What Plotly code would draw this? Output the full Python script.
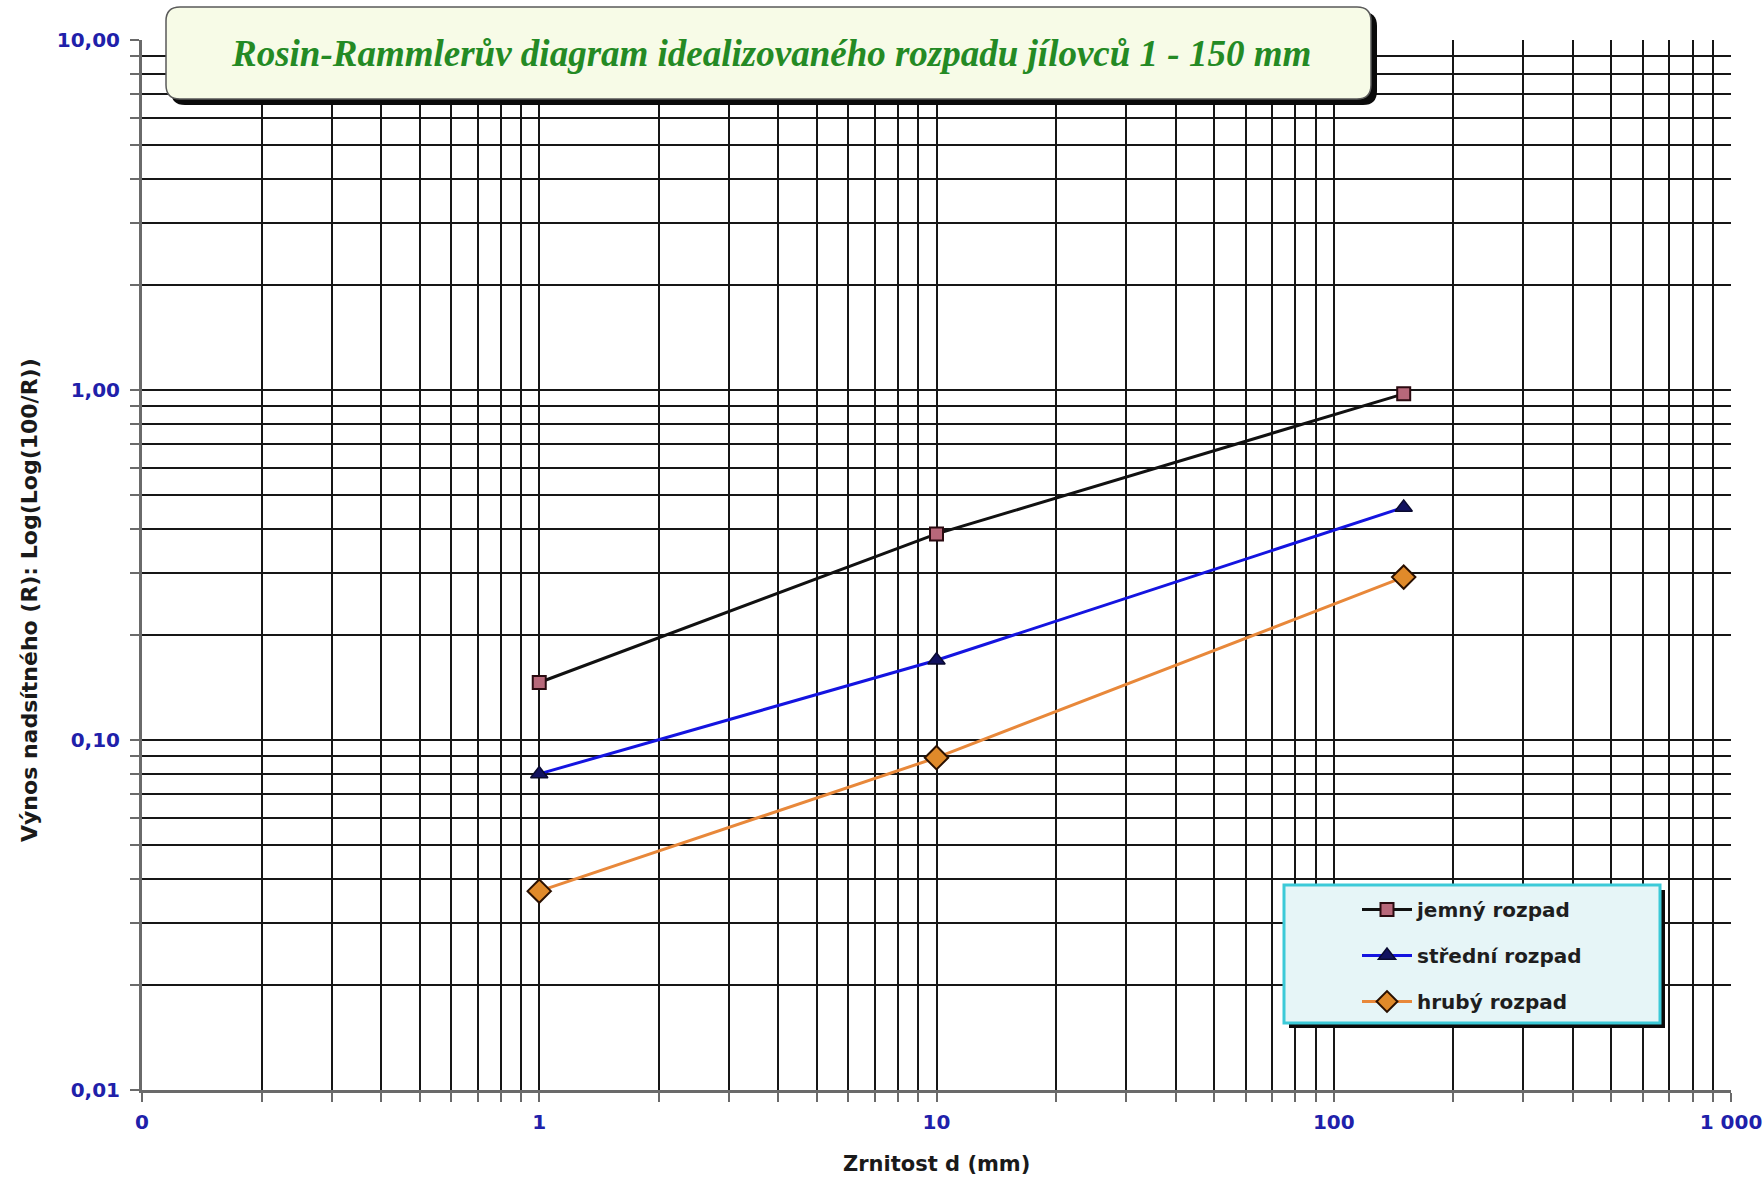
import plotly.graph_objects as go

# Grain size (mm) and Rosin-Rammler ordinate Log(Log(100/R)) for three breakdown grades
grain_mm = [1, 10, 150]
jemny = [0.146, 0.388, 0.975]
stredni = [0.080, 0.169, 0.462]
hruby = [0.037, 0.089, 0.292]

series_names = ["jemný rozpad", "střední rozpad", "hrubý rozpad"]

x_tick_vals = [0.1, 1, 10, 100, 1000]
x_tick_text = ["0", "1", "10", "100", "1 000"]
y_tick_vals = [0.01, 0.1, 1, 10]
y_tick_text = ["0,01", "0,10", "1,00", "10,00"]

title_text = "Rosin-Rammlerův diagram idealizovaného rozpadu jílovců 1 - 150 mm"
x_title = "Zrnitost d (mm)"
y_title = "Výnos nadsítného (R): Log(Log(100/R))"

W, H = 1764, 1179
L, R, T, B = 142, 1731, 40, 1090


def px(x):
    return (x - L) / (R - L)


def py(y):
    return (B - y) / (B - T)


def rounded_rect(x0, y0, x1, y1, r):
    pts = [
        f"M{px(x0 + r)},{py(y0)}",
        f"L{px(x1 - r)},{py(y0)}",
        f"Q{px(x1)},{py(y0)} {px(x1)},{py(y0 + r)}",
        f"L{px(x1)},{py(y1 - r)}",
        f"Q{px(x1)},{py(y1)} {px(x1 - r)},{py(y1)}",
        f"L{px(x0 + r)},{py(y1)}",
        f"Q{px(x0)},{py(y1)} {px(x0)},{py(y1 - r)}",
        f"L{px(x0)},{py(y0 + r)}",
        f"Q{px(x0)},{py(y0)} {px(x0 + r)},{py(y0)}",
        "Z",
    ]
    return " ".join(pts)


minor_x = [k * 10 ** e for e in range(-1, 3) for k in range(2, 10)]
minor_y = [k * 10 ** e for e in range(-2, 1) for k in range(2, 10)]

fig = go.Figure()

fig.add_trace(go.Scatter(
    x=grain_mm, y=jemny, name=series_names[0], mode="lines+markers",
    legendgroup="a",
    line=dict(color="#111111", width=3),
    marker=dict(symbol="square", size=13, color="#b8687a",
                line=dict(color="#2a0a10", width=2)),
))
fig.add_trace(go.Scatter(
    x=grain_mm, y=stredni, name=series_names[1], mode="lines+markers",
    legendgroup="b",
    line=dict(color="#1414e0", width=3),
    marker=dict(symbol="triangle-up", size=15, color="#121260",
                line=dict(color="#0a0a30", width=1.5)),
))
fig.add_trace(go.Scatter(
    x=grain_mm, y=hruby, name=series_names[2], mode="lines+markers",
    legendgroup="c",
    line=dict(color="#e8883a", width=3),
    marker=dict(symbol="diamond", size=18, color="#e08a2a",
                line=dict(color="#2a1000", width=2)),
))

grid_col = "#161616"
axis_col = "#6a6a6a"
tick_font = dict(family="DejaVu Sans", size=20, color="#2020aa", weight="bold")

fig.update_xaxes(
    type="log", range=[-1, 3], automargin=False,
    tickmode="array", tickvals=x_tick_vals, ticktext=x_tick_text,
    tickfont=tick_font,
    showgrid=True, gridcolor=grid_col, gridwidth=1.6,
    showline=True, linecolor=axis_col, linewidth=3,
    ticks="outside", ticklen=9, tickwidth=1.5, tickcolor=axis_col,
    minor=dict(tickmode="array", tickvals=minor_x, showgrid=True,
               gridcolor=grid_col, gridwidth=1.6,
               ticks="outside", ticklen=9, tickwidth=1.5, tickcolor=axis_col),
    ticklabelstandoff=3,
    zeroline=False,
)
fig.update_yaxes(
    type="log", range=[-2, 1], automargin=False,
    tickmode="array", tickvals=y_tick_vals, ticktext=y_tick_text,
    tickfont=tick_font,
    showgrid=True, gridcolor=grid_col, gridwidth=1.6,
    showline=True, linecolor=axis_col, linewidth=3,
    ticks="outside", ticklen=9, tickwidth=1.5, tickcolor=axis_col,
    minor=dict(tickmode="array", tickvals=minor_y, showgrid=True,
               gridcolor=grid_col, gridwidth=1.6,
               ticks="outside", ticklen=9, tickwidth=1.5, tickcolor=axis_col),
    ticklabelstandoff=6,
    zeroline=False,
)

shapes = [
    # title box shadow and box
    dict(type="path", xref="paper", yref="paper", layer="above",
         path=rounded_rect(171, 12, 1377, 105, 14),
         fillcolor="#0a0a0a", line=dict(width=0)),
    dict(type="path", xref="paper", yref="paper", layer="above",
         path=rounded_rect(166, 7, 1371, 99, 14),
         fillcolor="#f7fbe7", line=dict(color="#5a5a5a", width=1.5)),
    # legend box shadow and box
    dict(type="rect", xref="paper", yref="paper", layer="above",
         x0=px(1289), x1=px(1665), y0=py(890), y1=py(1028),
         fillcolor="#0a0a0a", line=dict(width=0)),
    dict(type="rect", xref="paper", yref="paper", layer="above",
         x0=px(1284), x1=px(1660), y0=py(885), y1=py(1023),
         fillcolor="#e6f5f7", line=dict(color="#3ccad8", width=3)),
]

annotations = [
    dict(text=title_text, xref="paper", yref="paper", x=px(771), y=py(53),
         xanchor="center", yanchor="middle", showarrow=False,
         font=dict(family="Liberation Serif", size=37, color="#248a24",
                   style="italic", weight="bold")),
    dict(text=y_title, xref="paper", yref="paper", x=px(29), y=py(600),
         xanchor="center", yanchor="middle", showarrow=False, textangle=-90,
         font=dict(family="DejaVu Sans", size=22, color="#1a1a1a", weight="bold")),
    dict(text=x_title, xref="paper", yref="paper", x=px(937), y=py(1164),
         xanchor="center", yanchor="middle", showarrow=False,
         font=dict(family="DejaVu Sans", size=21, color="#1a1a1a", weight="bold")),
]

fig.update_layout(
    width=W, height=H,
    margin=dict(l=L, r=W - R, t=T, b=H - B, autoexpand=False),
    paper_bgcolor="white", plot_bgcolor="white",
    shapes=shapes, annotations=annotations,
    showlegend=True,
    legend=dict(x=px(1357), y=py(890), xanchor="left", yanchor="top",
                bgcolor="rgba(0,0,0,0)", borderwidth=0,
                tracegroupgap=17, itemwidth=50,
                font=dict(family="DejaVu Sans", size=20, color="#1e1e1e",
                          weight="bold")),
)

fig.write_html("out.html")
